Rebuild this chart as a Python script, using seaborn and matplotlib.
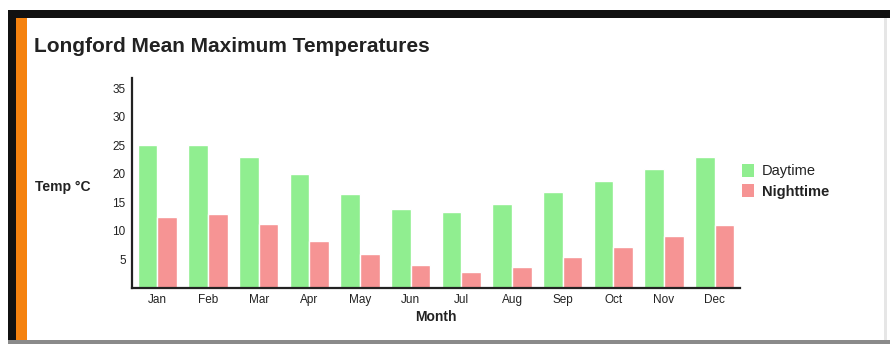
import matplotlib
matplotlib.use("Agg")
import matplotlib.pyplot as plt
from matplotlib.patches import Rectangle
import seaborn as sns
import pandas as pd

months = ["Jan", "Feb", "Mar", "Apr", "May", "Jun",
          "Jul", "Aug", "Sep", "Oct", "Nov", "Dec"]
daytime = [25, 25, 23, 20, 16.5, 13.8, 13.3, 14.8, 16.8, 18.8, 20.8, 23]
nighttime = [12.5, 12.9, 11.2, 8.2, 5.9, 4.0, 2.8, 3.7, 5.4, 7.2, 9.1, 11]
series = ["Daytime", "Nighttime"]
colors = ["#90EE90", "#F69494"]
y_ticks = [5, 10, 15, 20, 25, 30, 35]

df = pd.DataFrame({
    "Month": months * 2,
    "Temp": daytime + nighttime,
    "Series": [series[0]] * len(months) + [series[1]] * len(months),
})

sns.set_style("white")
plt.rcParams["font.family"] = ["Liberation Sans", "DejaVu Sans"]

fig = plt.figure(figsize=(8.9, 3.44), dpi=100)
ax = fig.add_axes([0.1483, 0.1628, 0.6832, 0.6105])

sns.barplot(data=df, x="Month", y="Temp", hue="Series", order=months,
            hue_order=series, palette=colors, width=0.78, saturation=1,
            ax=ax, legend=False)

ax.set_xlim(-0.5, 11.5)
ax.set_ylim(0, 36.8)
ax.set_yticks(y_ticks)
ax.set_yticklabels([str(v) for v in y_ticks])
for s in ["top", "right"]:
    ax.spines[s].set_visible(False)
for s in ["left", "bottom"]:
    ax.spines[s].set_color("#222222")
    ax.spines[s].set_linewidth(1.6)
ax.tick_params(axis="both", direction="inout", length=5, width=1,
               color="#222222", labelsize=8.5, labelcolor="#222222", pad=2)

ax.set_xlabel("Month", fontsize=10, fontweight="bold", color="#222222", labelpad=3)
ax.set_ylabel("Temp \u00b0C", fontsize=10, fontweight="bold", color="#222222",
              rotation=0, ha="left", va="center")
ax.yaxis.set_label_coords(-0.16, 0.48)

fig.text(34 / 890, 1 - 46 / 344, "Longford Mean Maximum Temperatures",
         fontsize=15, fontweight="bold", color="#222222", va="center")

handles = [Rectangle((0, 0), 1, 1, facecolor=c, edgecolor="none") for c in colors]
leg = fig.legend(handles, series, loc="upper left",
                 bbox_to_anchor=(736 / 890, 1 - 158 / 344), frameon=False,
                 fontsize=10.5, handlelength=0.85, handleheight=1.0,
                 handletextpad=0.5, labelspacing=0.4, borderaxespad=0)
leg.get_texts()[1].set_fontweight("bold")
for t in leg.get_texts():
    t.set_color("#222222")

# panel frame: dark top and left border, orange accent, light grey right/bottom edges
W, H = 890, 344
def box(x0, y0, x1, y1, color):
    fig.add_artist(Rectangle((x0 / W, 1 - y1 / H), (x1 - x0) / W, (y1 - y0) / H,
                             transform=fig.transFigure, facecolor=color,
                             edgecolor="none", zorder=10))

box(8, 10, 890, 18, "#111111")
box(8, 10, 16, 344, "#111111")
box(16, 18, 27, 344, "#F5820F")
box(8, 340, 890, 344, "#8a8a8a")
box(884, 18, 887, 340, "#e6e6e6")

fig.savefig("out.png", dpi=100)
